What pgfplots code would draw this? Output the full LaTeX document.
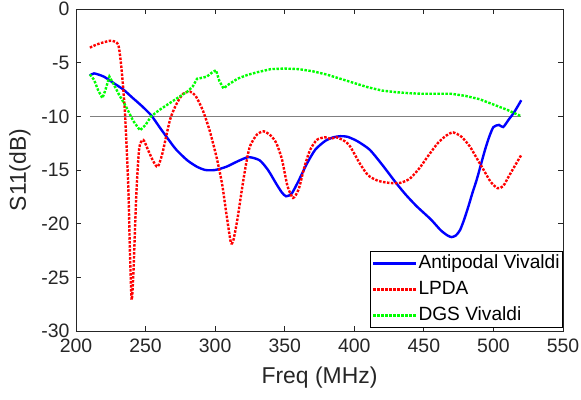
\documentclass[border=0pt]{standalone}
\usepackage{fontspec}
\setmainfont{Liberation Sans}
\usepackage{pgfplots}
\pgfplotsset{compat=1.18}
\definecolor{axgray}{gray}{0.15}
\definecolor{mblue}{rgb}{0,0,1}
\definecolor{mred}{rgb}{1,0,0}
\definecolor{mgreen}{rgb}{0,1,0}
\begin{document}
\begin{tikzpicture}
\useasboundingbox (-76bp,-69bp) rectangle (505bp,331bp);
\begin{axis}[
  scale only axis,
  width=487bp, height=322bp,
  xmin=200, xmax=550, ymin=-30, ymax=0,
  xtick={200,250,...,550}, ytick={-30,-25,...,0},
  tick align=inside,
  major tick length=5bp,
  axis line style={color=axgray, line width=0.8bp},
  tick style={color=axgray, line width=0.8bp},
  /pgf/number format/assume math mode=true,
  ticklabel style={font=\fontsize{19.5}{22}\selectfont, text=axgray},
  xticklabel style={yshift=-4bp},
  yticklabel style={xshift=-3bp},
  xlabel={Freq (MHz)}, ylabel={S11(dB)},
  label style={font=\fontsize{23}{26}\selectfont, text=axgray},
  xlabel style={at={(axis description cs:0.5,-0.146)}, anchor=center},
  ylabel style={at={(axis description cs:-0.115,0.5)}, anchor=center},
  legend cell align=left,
  legend image code/.code={\draw[#1] (0bp,0bp) -- (43bp,0bp);},
  legend style={at={(rel axis cs:1,0.01)}, anchor=south east,
    font=\fontsize{19.2}{21}\selectfont, draw=black, line width=0.8bp,
    inner sep=2bp, row sep=6bp,
    nodes={inner sep=1bp, text height=14bp, text depth=4bp}},
]
\addplot[forget plot, color=gray, line width=0.9bp] coordinates {(210,-10) (520,-10)};
\addplot[color=mblue, line width=2.4bp, smooth, tension=0.4] coordinates {
(210,-6.2) (213,-6.0) (220,-6.3) (227,-6.9) (234,-7.5) (240,-8.2) (247,-9.0)
(254,-9.9) (260,-11.0) (265,-11.9) (272,-13.1) (280,-14.1) (287,-14.7)
(293,-15.0) (300,-15.0) (308,-14.7) (316,-14.2) (324,-13.8) (332,-14.1)
(338,-15.0) (344,-16.3) (348,-17.1) (351,-17.45) (355,-17.2) (360,-16.0)
(366,-14.4) (372,-13.1) (379,-12.3) (385,-11.95) (390,-11.85) (395,-11.9) (402,-12.3)
(411,-13.1) (420,-14.5) (430,-16.2) (437,-17.3) (445,-18.4) (455,-19.6)
(462,-20.6) (467,-21.1) (470,-21.25) (473,-21.1) (476,-20.6) (479,-19.6)
(482,-18.4) (485,-17.1) (488,-15.9) (491,-14.5) (494,-13.1) (497,-11.9)
(500,-11.0) (504,-10.8) (507,-11.0) (511,-10.3) (515,-9.6) (520,-8.5)};
\addlegendentry{Antipodal Vivaldi}
\addplot[color=mred, line width=2.4bp, dash pattern=on 2.5bp off 1.5bp, smooth, tension=0.4] coordinates {
(210,-3.6) (215,-3.3) (220,-3.1) (225.7,-2.95) (230.4,-3.35) (232.8,-5.7)
(235.2,-9.7) (237.6,-16.6) (238.8,-22.8) (240,-27.1) (241.3,-24.5)
(242.4,-20.5) (243.6,-16.6) (245.5,-12.9) (248.4,-12.2) (252,-13.2)
(255.6,-14.2) (258.7,-14.7) (262,-13.5) (267.6,-10.3) (272.4,-8.8)
(277,-7.9) (282,-7.7) (286,-8.1) (291,-9.4) (296,-11.3) (301,-13.8)
(305,-16.3) (308,-19.0) (311.2,-21.7) (313,-21.6) (316,-19.6) (319,-17.0)
(322,-14.6) (325,-12.8) (330,-11.7) (335,-11.4) (340,-11.8) (344,-12.5)
(348,-14.0) (352,-16.5) (356,-17.6) (360,-16.8) (364,-14.8) (368,-13.2)
(373,-12.2) (379,-11.95) (383,-12.1) (387,-11.95) (393,-12.3) (397,-12.8) (404,-14.4)
(410,-15.5) (417,-16.0) (425,-16.2) (433,-16.2) (440,-15.8) (447,-14.8)
(453,-13.7) (460,-12.5) (466,-11.8) (471,-11.5) (477,-11.9) (483,-12.8)
(488,-13.9) (493,-15.0) (498,-16.1) (503,-16.7) (507,-16.5) (511,-15.6)
(515,-14.7) (520,-13.6)};
\addlegendentry{LPDA}
\addplot[color=mgreen, line width=2.4bp, dash pattern=on 2.5bp off 1.5bp] coordinates {
(210,-6.1) (213,-6.6) (216,-7.6) (219,-8.3) (221,-7.6) (224,-6.3) (227,-7.0)
(231,-8.0) (236,-9.1) (241,-10.4) (246,-11.3) (250,-10.8) (254,-10.0)
(260,-9.4) (267,-8.8) (274,-8.2) (280,-7.7) (284,-7.2) (287,-6.5) (291,-6.4)
(294,-6.3) (298,-5.9) (300.6,-5.7) (303,-6.7) (306,-7.4) (310,-7.0)
(316,-6.5) (323,-6.15) (330,-5.9) (340,-5.6) (350,-5.55) (360,-5.6)
(370,-5.8) (380,-6.1) (390,-6.5) (400,-6.9) (410,-7.3) (420,-7.6)
(430,-7.75) (440,-7.85) (450,-7.9) (460,-7.9) (470,-7.9) (480,-8.1)
(490,-8.4) (500,-8.9) (510,-9.4) (520,-10.0)};
\addlegendentry{DGS Vivaldi}
\end{axis}
\end{tikzpicture}
\end{document}
